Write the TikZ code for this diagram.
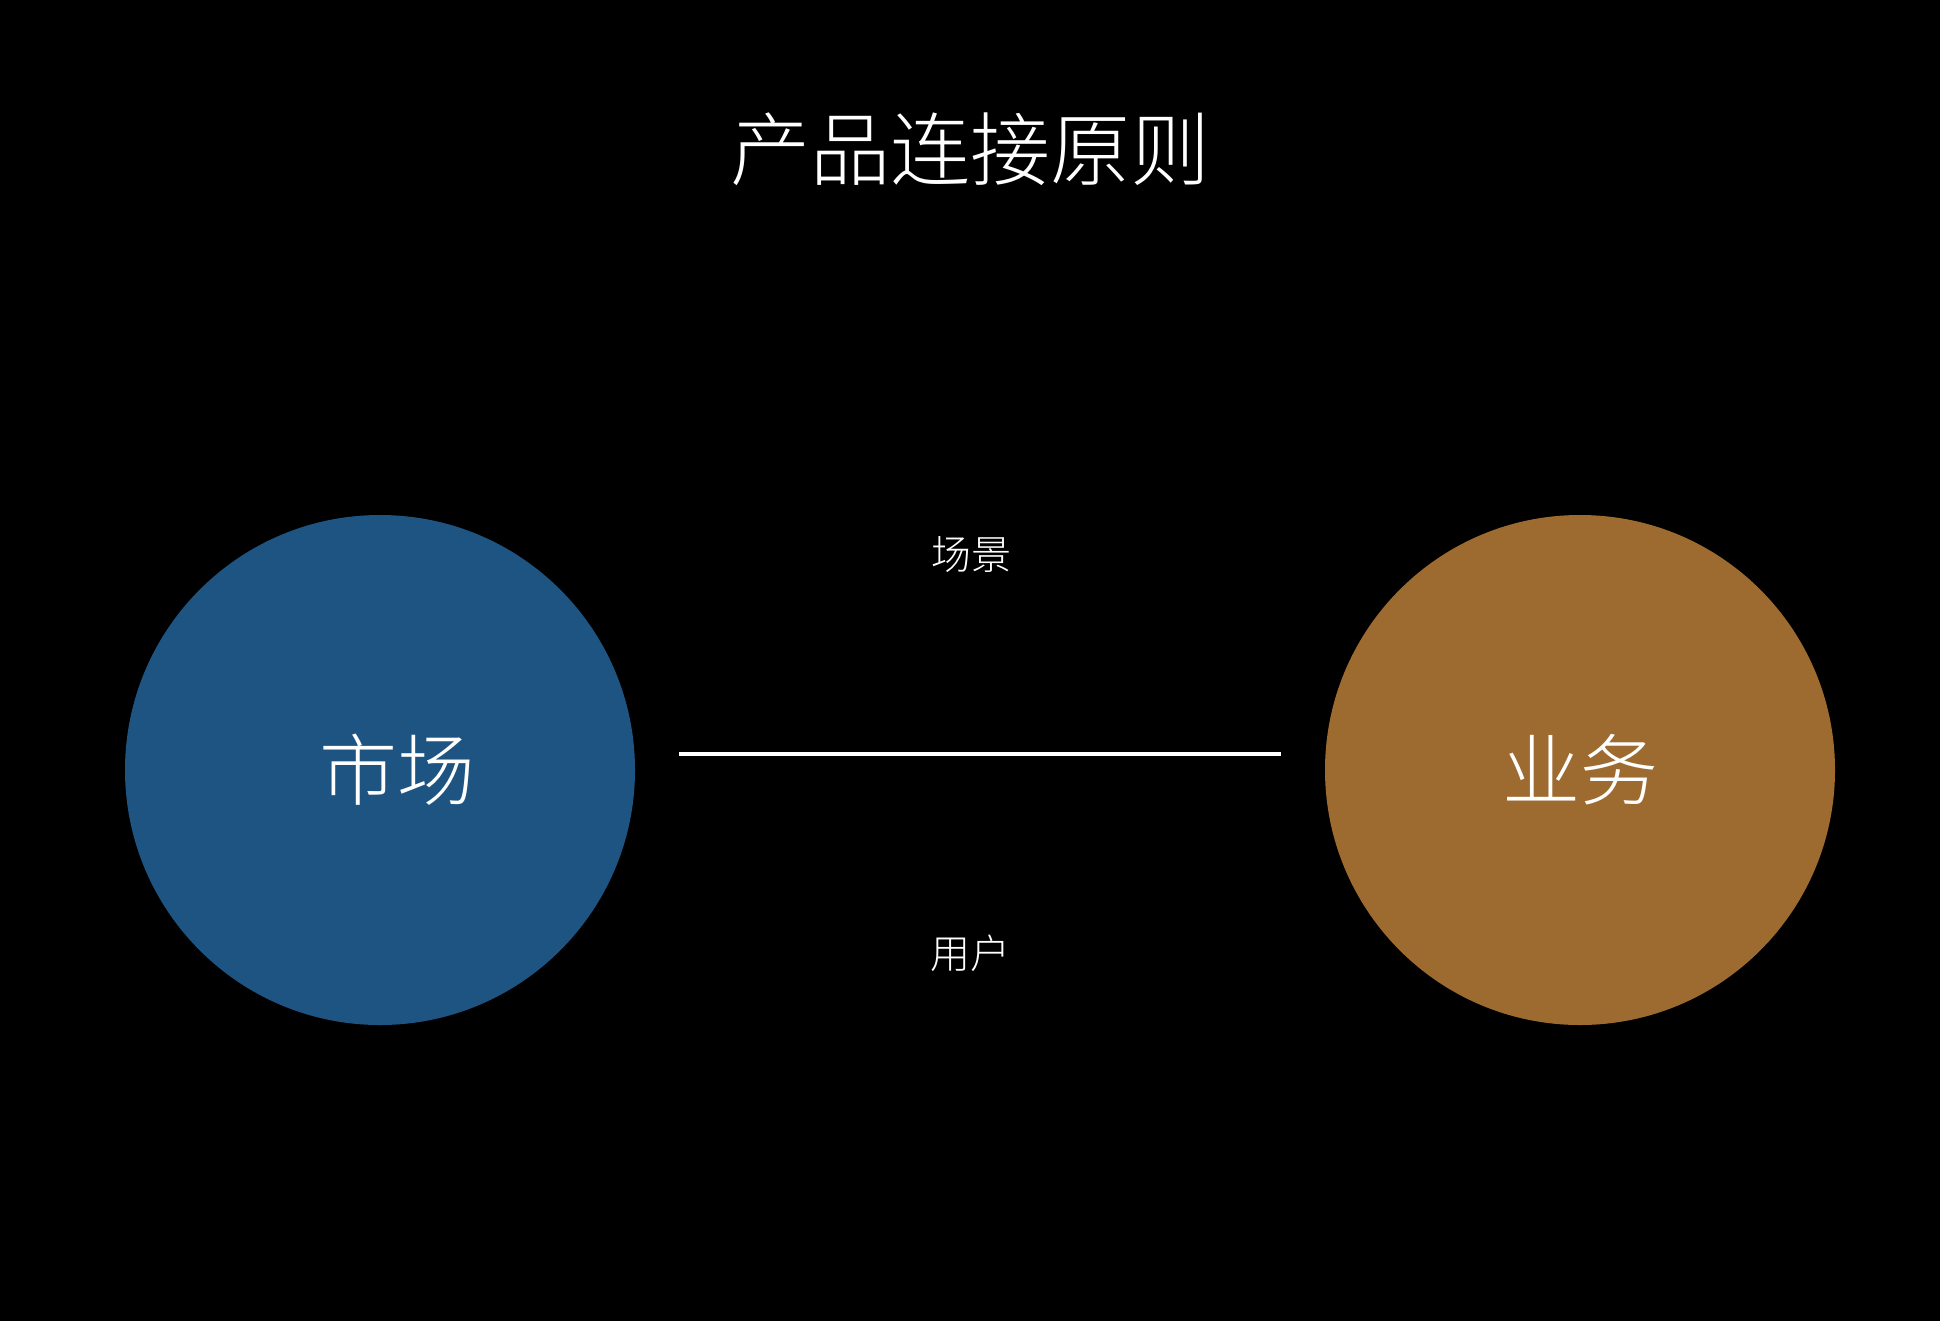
\documentclass[tikz,border=0pt]{standalone}
\usepackage{fontspec}
\newfontfamily\cjk{Noto Sans CJK SC Light}
\definecolor{mblue}{HTML}{1E5481}
\definecolor{morange}{HTML}{9D6B30}
\begin{document}
\begin{tikzpicture}[x=1pt,y=-1pt,
  lbl/.style={text=white,font=\cjk\fontsize{40}{48}\selectfont,inner sep=0pt},
  big/.style={text=white,font=\cjk\fontsize{78}{90}\selectfont,inner sep=0pt},
  disc/.style={circle,minimum size=510pt,inner sep=0pt}]
\useasboundingbox (0,0) rectangle (1940,1320);
\fill[black] (-5,-5) rectangle (1945,1325);
\node[big,font=\cjk\fontsize{80}{90}\selectfont] (title) at (970,149) {产品连接原则};
\node[disc,fill=mblue] (market) at (380,770) {};
\node[disc,fill=morange] (biz) at (1580,770) {};
\node[big] (mtext) at (397,770) {市场};
\node[big] (btext) at (1580,770) {业务};
\coordinate (la) at (679,754);
\coordinate (lb) at (1281,754);
\draw[white,line width=4pt] (la) -- (lb);
\node[lbl] (scene) at (971,555) {场景};
\node[lbl] (user) at (970,953) {用户};
\end{tikzpicture}
\end{document}
